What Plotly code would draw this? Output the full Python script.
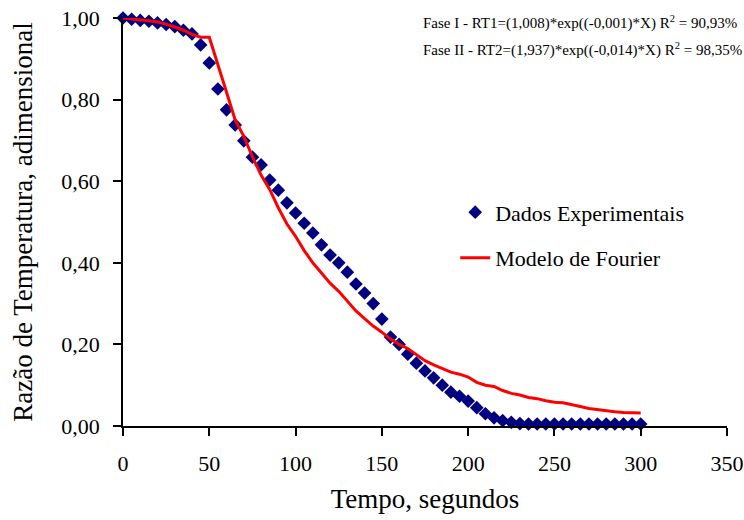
import plotly.graph_objects as go

tempo = [0, 5, 10, 15, 20, 25, 30, 35, 40, 45, 50, 55, 60, 65, 70, 75, 80, 85, 90, 95,
         100, 105, 110, 115, 120, 125, 130, 135, 140, 145, 150, 155, 160, 165, 170, 175,
         180, 185, 190, 195, 200, 205, 210, 215, 220, 225, 230, 235, 240, 245, 250, 255,
         260, 265, 270, 275, 280, 285, 290, 295, 300]

dados_exp = [1.000, 0.997, 0.994, 0.992, 0.988, 0.984, 0.979, 0.970, 0.961, 0.934, 0.890, 0.826, 0.775, 0.738,
             0.699, 0.659, 0.640, 0.603, 0.578, 0.547, 0.522, 0.497, 0.473, 0.444, 0.419, 0.400,
             0.377, 0.348, 0.326, 0.300, 0.262, 0.218, 0.200, 0.176, 0.154, 0.135, 0.118, 0.100,
             0.083, 0.073, 0.061, 0.045, 0.030, 0.020, 0.013, 0.009, 0.006, 0.005, 0.005, 0.005,
             0.005, 0.005, 0.005, 0.005, 0.005, 0.005, 0.005, 0.005, 0.005, 0.005, 0.005]

modelo_fourier = [1.000, 0.998, 0.995, 0.993, 0.990, 0.985, 0.978, 0.970, 0.960, 0.953, 0.953, 0.888, 0.818,
                  0.750, 0.710, 0.660, 0.615, 0.580, 0.535, 0.495, 0.465, 0.430, 0.400, 0.375,
                  0.350, 0.330, 0.305, 0.282, 0.263, 0.245, 0.230, 0.213, 0.200, 0.190, 0.175,
                  0.160, 0.150, 0.140, 0.132, 0.127, 0.120, 0.107, 0.100, 0.097, 0.087, 0.080,
                  0.076, 0.070, 0.067, 0.062, 0.058, 0.057, 0.053, 0.048, 0.043, 0.040, 0.038,
                  0.035, 0.033, 0.032, 0.032]

eq_lines = ["Fase I - RT1=(1,008)*exp((-0,001)*X) R<sup>2</sup> = 90,93%",
            "Fase II - RT2=(1,937)*exp((-0,014)*X) R<sup>2</sup> = 98,35%"]

FONT = "Liberation Serif"

fig = go.Figure()
fig.add_trace(go.Scatter(
    x=tempo, y=dados_exp, mode="markers", name="Dados Experimentais",
    marker=dict(symbol="diamond", color="#000080", size=10.5, line=dict(width=0)),
    legendgroup="a", cliponaxis=False))
fig.add_trace(go.Scatter(
    x=tempo, y=modelo_fourier, mode="lines", name="Modelo de Fourier",
    line=dict(color="#FF0000", width=3), legendgroup="b", cliponaxis=False))

fig.add_annotation(xref="paper", yref="paper", x=0.493, y=0.99, xanchor="left", yanchor="middle",
                   text=eq_lines[0], showarrow=False, align="left",
                   font=dict(family=FONT, size=15, color="black"))
fig.add_annotation(xref="paper", yref="paper", x=0.493, y=0.922, xanchor="left", yanchor="middle",
                   text=eq_lines[1], showarrow=False, align="left",
                   font=dict(family=FONT, size=15, color="black"))

fig.update_layout(
    width=744, height=520,
    margin=dict(l=123, r=17, t=18, b=94),
    paper_bgcolor="white", plot_bgcolor="white",
    separators=",.",
    font=dict(family=FONT, size=22, color="black"),
    showlegend=True,
    legend=dict(x=0.55, y=0.575, xanchor="left", yanchor="top",
                font=dict(family=FONT, size=22, color="black"),
                bgcolor="rgba(0,0,0,0)", borderwidth=0,
                tracegroupgap=14, traceorder="grouped"),
    xaxis=dict(range=[0, 350], tickvals=[0, 50, 100, 150, 200, 250, 300, 350], automargin=False,
               showgrid=False, zeroline=False, showline=True, linecolor="black", linewidth=1.5,
               ticks="outside", ticklen=8, tickwidth=1.5, tickcolor="black",
               ticklabelstandoff=9, ticklabeloverflow="allow",
               tickfont=dict(family=FONT, size=22),
               title=dict(text="Tempo, segundos", font=dict(family=FONT, size=27), standoff=14)),
    yaxis=dict(range=[0, 1.0], tickvals=[0, 0.2, 0.4, 0.6, 0.8, 1.0], tickformat=".2f", automargin=False,
               showgrid=False, zeroline=False, showline=True, linecolor="black", linewidth=1.5,
               ticks="outside", ticklen=8, tickwidth=1.5, tickcolor="black",
               ticklabelstandoff=9, ticklabeloverflow="allow",
               tickfont=dict(family=FONT, size=22),
               title=dict(text="Razão de Temperatura, adimensional", font=dict(family=FONT, size=27),
                          standoff=21)),
)

fig.write_html("out.html")
